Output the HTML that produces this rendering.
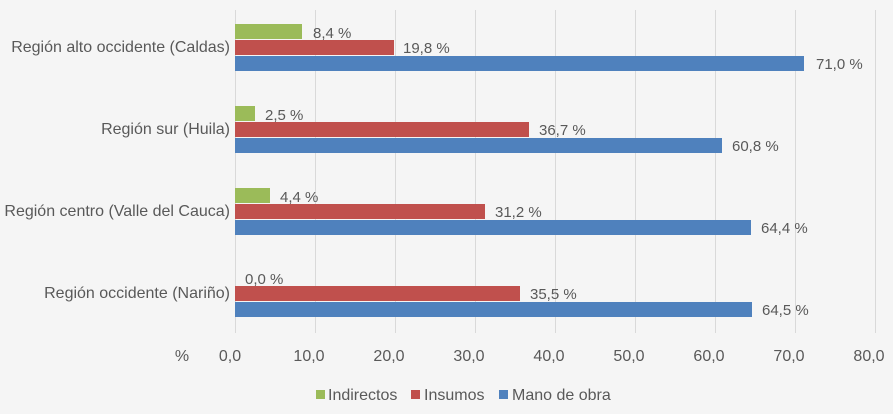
<!DOCTYPE html>
<html><head><meta charset="utf-8"><style>
body{margin:0;background:#f5f5f5;}
svg{display:block;font-family:"Liberation Sans Narrow","Liberation Sans",sans-serif;}
text{fill:#595959;font-size:15px;}
</style></head><body>
<svg width="893" height="414" viewBox="0 0 893 414">
<rect width="893" height="414" fill="#f5f5f5"/>
<g stroke="#d9d9d9" stroke-width="1">
<line x1="235.5" y1="10" x2="235.5" y2="333"/><line x1="315.5" y1="10" x2="315.5" y2="333"/>
<line x1="395.5" y1="10" x2="395.5" y2="333"/><line x1="475.5" y1="10" x2="475.5" y2="333"/>
<line x1="555.5" y1="10" x2="555.5" y2="333"/><line x1="635.5" y1="10" x2="635.5" y2="333"/>
<line x1="715.5" y1="10" x2="715.5" y2="333"/><line x1="795.5" y1="10" x2="795.5" y2="333"/>
<line x1="875.5" y1="10" x2="875.5" y2="333"/>
</g>
<!-- group 1 -->
<rect x="235" y="24" width="67" height="15" fill="#9bbb59"/>
<rect x="235" y="40" width="159" height="15" fill="#c0504d"/>
<rect x="235" y="56" width="569" height="15" fill="#4f81bd"/>
<!-- group 2 -->
<rect x="235" y="106" width="20" height="15" fill="#9bbb59"/>
<rect x="235" y="122" width="294" height="15" fill="#c0504d"/>
<rect x="235" y="138" width="487" height="15" fill="#4f81bd"/>
<!-- group 3 -->
<rect x="235" y="188" width="35" height="15" fill="#9bbb59"/>
<rect x="235" y="204" width="250" height="15" fill="#c0504d"/>
<rect x="235" y="220" width="516" height="15" fill="#4f81bd"/>
<!-- group 4 -->
<rect x="235" y="286" width="285" height="15" fill="#c0504d"/>
<rect x="235" y="302" width="517" height="15" fill="#4f81bd"/>
<g>
<text x="313" y="38">8,4 %</text><text x="403" y="53">19,8 %</text><text x="816" y="69">71,0 %</text>
<text x="265" y="120">2,5 %</text><text x="539" y="135">36,7 %</text><text x="732" y="151">60,8 %</text>
<text x="280" y="202">4,4 %</text><text x="495" y="217">31,2 %</text><text x="761" y="233">64,4 %</text>
<text x="245" y="284">0,0 %</text><text x="530" y="299">35,5 %</text><text x="762" y="315">64,5 %</text>
</g>
<g text-anchor="end" font-size="16">
<text x="230" y="52" style="font-size:16px">Región alto occidente (Caldas)</text>
<text x="230" y="134" style="font-size:16px">Región sur (Huila)</text>
<text x="230" y="216" style="font-size:16px">Región centro (Valle del Cauca)</text>
<text x="230" y="298" style="font-size:16px">Región occidente (Nariño)</text>
</g>
<g text-anchor="middle">
<text x="182" y="361" style="font-size:16px">%</text>
<text x="230" y="361" style="font-size:16px">0,0</text>
<text x="309" y="361" style="font-size:16px">10,0</text>
<text x="389" y="361" style="font-size:16px">20,0</text>
<text x="469" y="361" style="font-size:16px">30,0</text>
<text x="549" y="361" style="font-size:16px">40,0</text>
<text x="629" y="361" style="font-size:16px">50,0</text>
<text x="709" y="361" style="font-size:16px">60,0</text>
<text x="789" y="361" style="font-size:16px">70,0</text>
<text x="869" y="361" style="font-size:16px">80,0</text>
</g>
<rect x="316" y="390" width="9" height="9" fill="#9bbb59"/>
<text x="328" y="400" style="font-size:16px">Indirectos</text>
<rect x="411" y="390" width="9" height="9" fill="#c0504d"/>
<text x="424" y="400" style="font-size:16px">Insumos</text>
<rect x="499" y="390" width="9" height="9" fill="#4f81bd"/>
<text x="512" y="400" style="font-size:16px">Mano de obra</text>
</svg>
</body></html>
